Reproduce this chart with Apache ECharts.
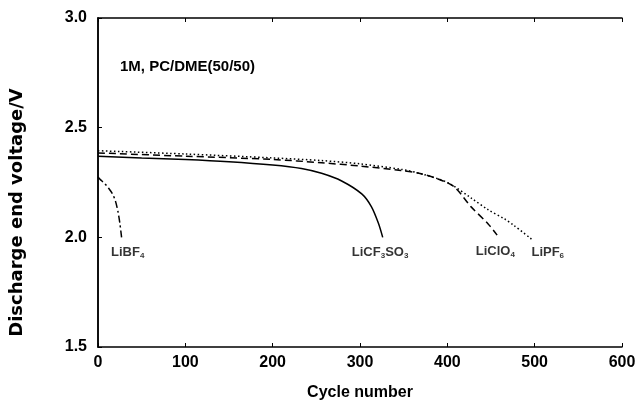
<!DOCTYPE html>
<html>
<head>
<meta charset="utf-8">
<script src="https://cdn.jsdelivr.net/npm/echarts@6/dist/echarts.min.js"></script>
<style>
  html, body { margin: 0; padding: 0; background: #fff; }
  #chart { width: 639px; height: 408px; }
</style>
</head>
<body>
<div id="chart"></div>
<script>
// cycle / voltage pairs
var liCF3SO3 = [[0, 2.37], [50, 2.362], [100, 2.355], [150, 2.345], [200, 2.33], [233, 2.314], [256, 2.292], [279, 2.257], [302, 2.198], [313, 2.14], [321, 2.065], [326, 2.0]];
var liClO4 = [[0, 2.385], [100, 2.37], [200, 2.355], [256, 2.34], [300, 2.325], [347, 2.305], [370, 2.29], [390, 2.265], [408, 2.23], [427, 2.14], [447, 2.06], [457, 2.01]];
var liPF6 = [[0, 2.395], [100, 2.38], [200, 2.362], [256, 2.35], [300, 2.335], [347, 2.31], [370, 2.29], [400, 2.25], [427, 2.18], [447, 2.125], [465, 2.085], [476, 2.055], [497, 1.99]];
var liBF4 = [[0, 2.275], [3, 2.262], [7, 2.248], [12, 2.225], [17, 2.195], [20, 2.165], [23, 2.115], [25, 2.065], [27, 2.0]];

// curve labels (data coordinates)
var labelText = ['LiBF{s|4}', 'LiCF{s|3}SO{s|3}', 'LiClO{s|4}', 'LiPF{s|6}'];
var labelPos = [[34, 1.93], [323, 1.93], [455, 1.935], [515, 1.93]];

var xTicks = [0, 600, 100];
var yTicks = [1.5, 3.0, 0.5];

var chart = echarts.init(document.getElementById('chart'));
var font = 'Liberation Sans';

function lineSeries(name, data, type, z) {
    return {
        name: name,
        type: 'line',
        data: data,
        smooth: 0.3,
        symbol: 'none',
        z: z,
        lineStyle: { color: '#000', width: 1.5, type: type }
    };
}

var series = [
    lineSeries('LiCF3SO3', liCF3SO3, 'solid', 3),
    lineSeries('LiClO4', liClO4, [7, 4], 3),
    lineSeries('LiPF6', liPF6, [1.5, 2.5], 3),
    lineSeries('LiBF4', liBF4, [7, 3, 2, 3], 3)
];

series.push({
    type: 'scatter',
    data: labelPos.map(function (p, i) { return { value: p, name: labelText[i] }; }),
    symbolSize: 0,
    silent: true,
    label: {
        show: true,
        position: 'inside',
        formatter: function (p) { return p.name; },
        color: '#000',
        fontFamily: font,
        fontWeight: 'bold',
        fontSize: 13,
        rich: {
            s: { fontSize: 8, fontWeight: 'bold', fontFamily: font, color: '#000', verticalAlign: 'bottom', padding: [6, 0, 0, 0] }
        }
    }
});

var option = {
    backgroundColor: '#fff',
    animation: false,
    title: {
        text: '1M, PC/DME(50/50)',
        left: 115,
        top: 54,
        textStyle: { fontFamily: font, fontWeight: 'bold', fontSize: 15, color: '#000' }
    },
    grid: { left: 96, right: 17, top: 18, bottom: 61 },
    xAxis: [{
        type: 'value',
        min: xTicks[0], max: xTicks[1], interval: xTicks[2],
        name: 'Cycle number',
        nameLocation: 'middle',
        nameGap: 38,
        nameTextStyle: { fontFamily: font, fontWeight: 'bold', fontSize: 16, color: '#000' },
        axisLine: { lineStyle: { color: '#000', width: 1.5 } },
        axisTick: { inside: true, length: 4, lineStyle: { color: '#000' } },
        axisLabel: { fontFamily: font, fontWeight: 'bold', fontSize: 16, color: '#000', margin: 8 },
        splitLine: { show: false }
    }, {
        type: 'value',
        position: 'top',
        min: xTicks[0], max: xTicks[1], interval: xTicks[2],
        axisLine: { lineStyle: { color: '#000', width: 1.5 } },
        axisTick: { inside: true, length: 4, lineStyle: { color: '#000' } },
        axisLabel: { show: false },
        splitLine: { show: false }
    }],
    yAxis: [{
        type: 'value',
        min: yTicks[0], max: yTicks[1], interval: yTicks[2],
        name: 'Discharge end voltage/V',
        nameLocation: 'middle',
        nameGap: 72,
        nameTextStyle: { fontFamily: 'DejaVu Sans', fontWeight: 'bold', fontSize: 18, color: '#000', padding: [0, 60, 0, 0] },
        axisLine: { lineStyle: { color: '#000', width: 1.5 } },
        axisTick: { inside: true, length: 4, lineStyle: { color: '#000' } },
        axisLabel: {
            fontFamily: font, fontWeight: 'bold', fontSize: 16, color: '#000', margin: 11,
            formatter: function (v) { return v.toFixed(1); }
        },
        splitLine: { show: false }
    }, {
        type: 'value',
        position: 'right',
        min: yTicks[0], max: yTicks[1], interval: yTicks[2],
        axisLine: { show: true, lineStyle: { color: '#000', width: 1.5 } },
        axisTick: { show: false },
        axisLabel: { show: false },
        splitLine: { show: false }
    }],
    series: series
};

chart.setOption(option);
</script>
</body>
</html>
